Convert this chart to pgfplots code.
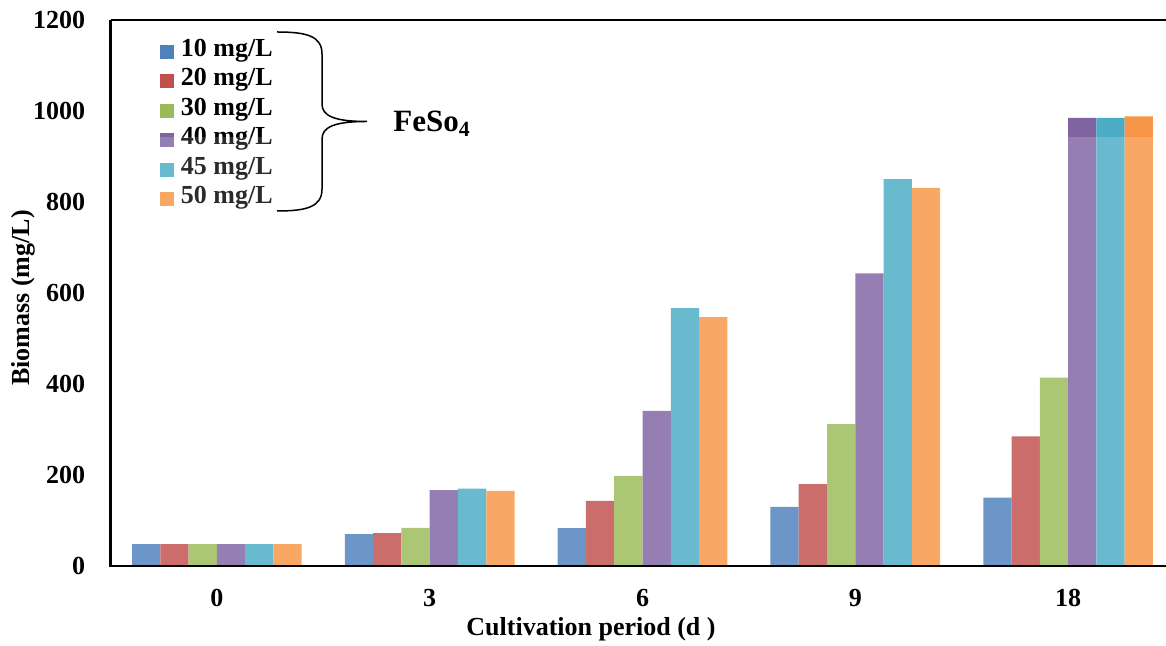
\documentclass[border=0pt]{standalone}
\usepackage{pgfplots}
\pgfplotsset{compat=1.18}
\usepackage{fontspec}
\setmainfont{Liberation Serif}

\definecolor{c10}{HTML}{4F81BD}
\definecolor{c20}{HTML}{C0504D}
\definecolor{c30}{HTML}{9BBB59}
\definecolor{c40}{HTML}{8064A2}
\definecolor{c45}{HTML}{4BACC6}
\definecolor{c50}{HTML}{F79646}

\begin{document}
\begin{tikzpicture}
\begin{axis}[
  name=ax,
  scale only axis, width=532pt, height=273pt,
  xmin=-0.5, xmax=4.5, ymin=0, ymax=1200,
  ybar=0pt, bar width=0.1329,
  axis line style={draw=none},
  xtick={0,1,2,3,4}, xticklabels={0,3,6,9,18},
  ytick={0,200,...,1200},
  major tick length=0pt,
  /pgf/number format/assume math mode=true,
  /pgf/number format/1000 sep={},
  tick label style={font=\fontsize{13}{15}\selectfont\bfseries, inner sep=0pt},
  yticklabel style={anchor=east, xshift=-12.5pt},
  xticklabel style={anchor=north, yshift=-11.5pt},
  xlabel={Cultivation period (d )},
  xlabel style={at={(axis description cs:0.4516,0)}, anchor=center, yshift=-31.5pt,
    font=\fontsize{13}{15}\selectfont\bfseries},
  ylabel={Biomass (mg/L)},
  ylabel style={at={(axis description cs:-0.0822,0.491)}, anchor=center, rotate=0,
    font=\fontsize{13}{15}\selectfont\bfseries},
  legend cell align=left,
  legend style={at={(rel axis cs:0,1)}, anchor=north west, xshift=24.75pt, yshift=-8.5pt,
    draw=none, fill=none, inner sep=0pt, column sep=3.5pt, row sep=0pt,
    font=\fontsize{13}{14.75}\selectfont\bfseries,
    nodes={inner sep=0pt, text height=9.5pt, text depth=5.25pt}},
  every axis plot post/.append style={
    legend image code/.code={\fill[##1] (0pt,-3.2pt) rectangle (6.75pt,3.8pt);}},
]
\addplot[fill=c10, draw=none] coordinates {(0,48) (1,70) (2,83) (3,130) (4,150)};
\addplot[fill=c20, draw=none] coordinates {(0,48) (1,72) (2,143) (3,180) (4,285)};
\addplot[fill=c30, draw=none] coordinates {(0,48) (1,84) (2,198) (3,312) (4,414)};
\addplot[fill=c40, draw=none] coordinates {(0,48) (1,167) (2,341) (3,643) (4,985)};
\addplot[fill=c45, draw=none] coordinates {(0,48) (1,170) (2,567) (3,850) (4,985)};
\addplot[fill=c50, draw=none] coordinates {(0,48) (1,165) (2,547) (3,831) (4,988)};
\legend{10 mg/L, 20 mg/L, 30 mg/L, 40 mg/L, 45 mg/L, 50 mg/L}
\end{axis}
% light wash over the lower part of the plot area
\fill[white, opacity=0.17] (ax.south west) rectangle ([yshift=-58.75pt]ax.north east);
% axis frame: left, bottom and top edges
\draw[line width=1.3pt] (ax.north west) -- (ax.south west) -- (ax.south east);
\draw[line width=1.3pt] (ax.north west) -- (ax.north east);
% brace grouping the concentrations, with the compound name
\begin{scope}[shift={(ax.north west)}]
\draw[line width=0.75pt]
  (83.25pt,-6pt) .. controls (98pt,-6pt) and (105.75pt,-8pt) .. (105.75pt,-17pt)
  -- (105.75pt,-42pt)
  .. controls (105.75pt,-48pt) and (112pt,-50.75pt) .. (128.25pt,-50.75pt)
  .. controls (112pt,-50.75pt) and (105.75pt,-53.5pt) .. (105.75pt,-59.5pt)
  -- (105.75pt,-84.5pt)
  .. controls (105.75pt,-93.5pt) and (98pt,-95.5pt) .. (83.25pt,-95.5pt);
\node[anchor=base west, inner sep=0pt, font=\fontsize{15.5}{18}\selectfont\bfseries]
  at (141.25pt,-56pt) {FeSo\textsubscript{4}};
\end{scope}
\pgfresetboundingbox
\useasboundingbox ([xshift=-55.25pt, yshift=-40pt]ax.south west)
  rectangle ([xshift=527.75pt, yshift=10pt]ax.north west);
\end{tikzpicture}
\end{document}
